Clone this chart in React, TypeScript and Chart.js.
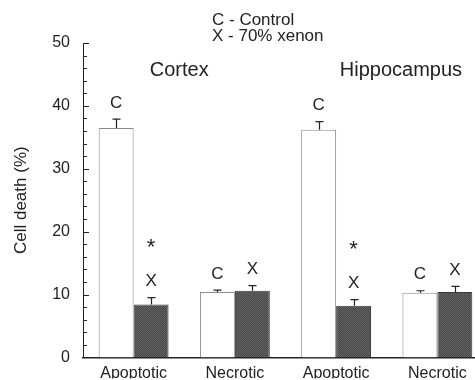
import { useEffect, useRef } from "react";
import { Chart, registerables } from "chart.js";

Chart.register(...registerables);

const categories = ["Apoptotic", "Necrotic", "Apoptotic", "Necrotic"];
const controlValues = [36.5, 10.4, 36.2, 10.3];
const controlErrors = [1.4, 0.3, 1.3, 0.3];
const xenonValues = [8.4, 10.6, 8.2, 10.4];
const xenonErrors = [1.1, 0.8, 1.0, 0.9];
const significance = ["*", "", "*", ""];
const seriesMarks = ["C", "X"];
const regionNames = ["Cortex", "Hippocampus"];
const legendLines = ["C - Control", "X - 70% xenon"];
const yAxisTitle = "Cell death (%)";
const yMin = 0;
const yMax = 50;
const yStep = 10;
const yMinorStep = 2;

const FONT = "'Liberation Sans', Arial, sans-serif";
const INK = "#222";

function makePattern(): CanvasPattern | string {
  const c = document.createElement("canvas");
  c.width = 2;
  c.height = 2;
  const g = c.getContext("2d");
  if (!g) return "#555";
  g.fillStyle = "#484848";
  g.fillRect(0, 0, 2, 2);
  g.fillStyle = "#626262";
  g.fillRect(0, 0, 1, 1);
  g.fillRect(1, 1, 1, 1);
  const p = g.createPattern(c, "repeat");
  return p || "#555";
}

const decorPlugin = {
  id: "decor",
  afterDatasetsDraw(chart: any) {
    const { ctx, chartArea, scales } = chart;
    const y = scales.y;
    const x = scales.x;
    ctx.save();
    ctx.strokeStyle = INK;
    ctx.lineWidth = 1;
    for (let v = yMin; v <= yMax; v += yMinorStep) {
      const py = Math.round(y.getPixelForValue(v)) + 0.5;
      const len = v % yStep === 0 ? 6 : 4;
      ctx.beginPath();
      ctx.moveTo(chartArea.left, py);
      ctx.lineTo(chartArea.left + len, py);
      ctx.stroke();
    }
    const errs = [controlErrors, xenonErrors];
    const vals = [controlValues, xenonValues];
    ctx.fillStyle = INK;
    ctx.textAlign = "center";
    ctx.textBaseline = "middle";
    for (let d = 0; d < 2; d++) {
      const meta = chart.getDatasetMeta(d);
      meta.data.forEach((bar: any, i: number) => {
        const bx = Math.round(bar.x) + 0.5;
        const top = y.getPixelForValue(vals[d][i]);
        const et = y.getPixelForValue(vals[d][i] + errs[d][i]);
        ctx.strokeStyle = INK;
        ctx.lineWidth = 1.2;
        ctx.beginPath();
        ctx.moveTo(bx, top);
        ctx.lineTo(bx, et);
        ctx.moveTo(bx - 4, et);
        ctx.lineTo(bx + 4, et);
        ctx.stroke();
        ctx.font = `17px ${FONT}`;
        const ly = et - 16;
        ctx.fillText(seriesMarks[d], bar.x, ly);
        if (d === 1 && significance[i]) {
          ctx.font = `22px ${FONT}`;
          ctx.fillText(significance[i], bar.x, ly - 34);
        }
      });
    }
    ctx.font = `20px ${FONT}`;
    ctx.fillText(regionNames[0], x.getPixelForValue(0.45), y.getPixelForValue(45.7));
    ctx.fillText(regionNames[1], x.getPixelForValue(2.64), y.getPixelForValue(45.6));
    ctx.font = `17px ${FONT}`;
    ctx.textAlign = "left";
    ctx.textBaseline = "alphabetic";
    ctx.fillText(legendLines[0], 212, 25);
    ctx.fillText(legendLines[1], 212, 41);
    ctx.restore();
  },
};

export default function App() {
  const ref = useRef<HTMLCanvasElement>(null);
  useEffect(() => {
    if (!ref.current) return;
    const pattern = makePattern();
    const chart = new Chart(ref.current, {
      type: "bar",
      data: {
        labels: categories,
        datasets: [
          {
            label: "Control",
            data: controlValues,
            backgroundColor: "#ffffff",
            borderColor: "#8a8a8a",
            borderWidth: 1,
            categoryPercentage: 0.69,
            barPercentage: 1,
          },
          {
            label: "70% xenon",
            data: xenonValues,
            backgroundColor: pattern as any,
            borderColor: "#3a3a3a",
            borderWidth: 1,
            categoryPercentage: 0.69,
            barPercentage: 1,
          },
        ],
      },
      options: {
        responsive: false,
        animation: false,
        layout: { padding: { top: 43, left: 0, right: 0, bottom: 0 } },
        plugins: { legend: { display: false }, tooltip: { enabled: false } },
        scales: {
          x: {
            grid: { display: false, drawTicks: false },
            border: { display: true, color: INK, width: 1.6 },
            ticks: { color: INK, font: { family: FONT, size: 16 }, padding: 7 },
            afterFit: (s: any) => {
              s.height = 21;
            },
          },
          y: {
            min: yMin,
            max: yMax,
            grid: { display: false, drawTicks: false },
            border: { display: true, color: INK, width: 1 },
            ticks: { stepSize: yStep, color: INK, font: { family: FONT, size: 16 }, padding: 13 },
            title: {
              display: true,
              text: yAxisTitle,
              color: INK,
              font: { family: FONT, size: 17 },
              padding: { top: 11, bottom: 0 },
            },
            afterFit: (s: any) => {
              s.width = 83;
            },
          },
        },
      },
      plugins: [decorPlugin],
    });
    return () => chart.destroy();
  }, []);
  return (
    <div
      style={{
        position: "fixed",
        left: 0,
        top: 0,
        width: 475,
        height: 380,
        overflow: "hidden",
        background: "#fff",
      }}
    >
      <canvas ref={ref} width={488} height={380} style={{ width: 488, height: 380, display: "block" }} />
    </div>
  );
}
